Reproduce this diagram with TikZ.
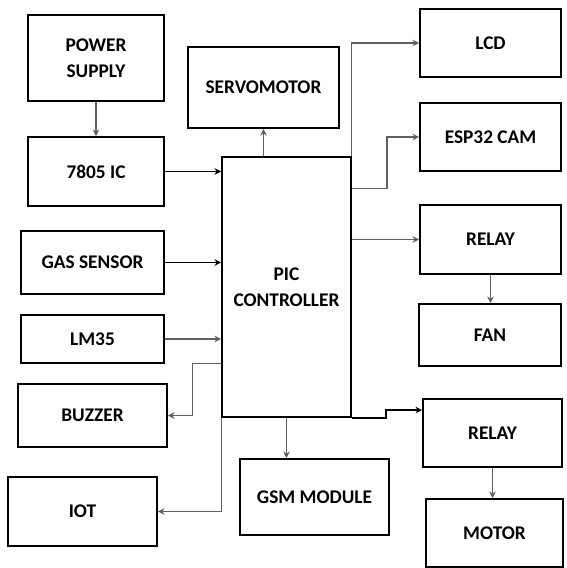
\documentclass[tikz,border=0pt]{standalone}
\usepackage{fontspec}
\setmainfont{Carlito}
\usetikzlibrary{arrows.meta, positioning, calc}

\begin{document}
\begin{tikzpicture}[
        x=0.2mm, y=-0.2mm,
        blk/.style={draw, line width=1.1pt, rectangle, align=center, font=\fontsize{11}{15}\selectfont\bfseries},
        conn/.style={-{Stealth[length=1.3mm, width=1.3mm]}, draw=gray!75!black, line width=0.6pt},
        dark/.style={-{Stealth[length=1.3mm, width=1.3mm]}, draw=black, line width=0.9pt}
    ]
        \useasboundingbox (0,0) rectangle (566,568);

        % left column
        \node[blk, minimum width=27.2mm, minimum height=17.2mm] (pwr) at (96,58) {POWER\\SUPPLY};
        \node[blk, minimum width=27.2mm, minimum height=13.8mm] (ic) at (96,171.5) {7805 IC};
        \node[blk, minimum width=28.6mm, minimum height=12.6mm] (gas) at (92.5,262.5) {GAS SENSOR};
        \node[blk, minimum width=28.6mm, minimum height=9.6mm] (lm) at (92.5,339) {LM35};
        \node[blk, minimum width=29.8mm, minimum height=12.6mm] (buzz) at (92.5,415.5) {BUZZER};
        \node[blk, minimum width=29.8mm, minimum height=13.8mm] (iot) at (82.5,511.5) {IOT};

        % middle
        \node[blk, minimum width=30.2mm, minimum height=16.2mm] (servo) at (263.5,87.5) {SERVOMOTOR};
        \node[blk, minimum width=25.8mm, minimum height=52mm] (pic) at (286.5,287) {PIC\\CONTROLLER};
        \node[blk, minimum width=29.8mm, minimum height=15.2mm] (gsm) at (314.5,497) {GSM MODULE};

        % right column
        \node[blk, minimum width=28.2mm, minimum height=13.6mm] (lcd) at (490.5,43) {LCD};
        \node[blk, minimum width=28.2mm, minimum height=13.6mm] (esp) at (490.5,137) {ESP32 CAM};
        \node[blk, minimum width=28.2mm, minimum height=13.8mm] (relaya) at (490.5,239.5) {RELAY};
        \node[blk, minimum width=28.4mm, minimum height=12.4mm] (fan) at (490,335) {FAN};
        \node[blk, minimum width=27.8mm, minimum height=13.6mm] (relayb) at (492.5,433) {RELAY};
        \node[blk, minimum width=27.4mm, minimum height=13.6mm] (motor) at (494.5,533) {MOTOR};

        % inputs
        \draw[conn] (pwr) -- (ic);
        \draw[dark] (ic.east) -- (ic.east -| pic.west);
        \draw[dark] (gas.east) -- (gas.east -| pic.west);
        \draw[conn] (lm.east) -- (lm.east -| pic.west);

        % outputs
        \draw[conn] ($(pic.south west)+(0,-54)$) -- ++(-29,0) |- (buzz.east);
        \draw[conn] (pic.south west) |- (iot.east);
        \draw[conn] (servo.south |- pic.north) -- (servo.south);
        \draw[conn] (pic.north east) |- (lcd.west);
        \draw[conn] ($(pic.north east)+(0,32)$) -- ++(35,0) |- (esp.west);
        \draw[conn] (relaya.west -| pic.east) -- (relaya.west);
        \draw[conn] (relaya.south) -- (relaya.south |- fan.north);
        \draw[dark] (pic.south east) -- ++(34,0) |- ($(relayb.north west)+(0,12)$);
        \draw[conn] (relayb.south) -- (relayb.south |- motor.north);
        \draw[conn] (pic.south) -- (pic.south |- gsm.north);
    \end{tikzpicture}
\end{document}
